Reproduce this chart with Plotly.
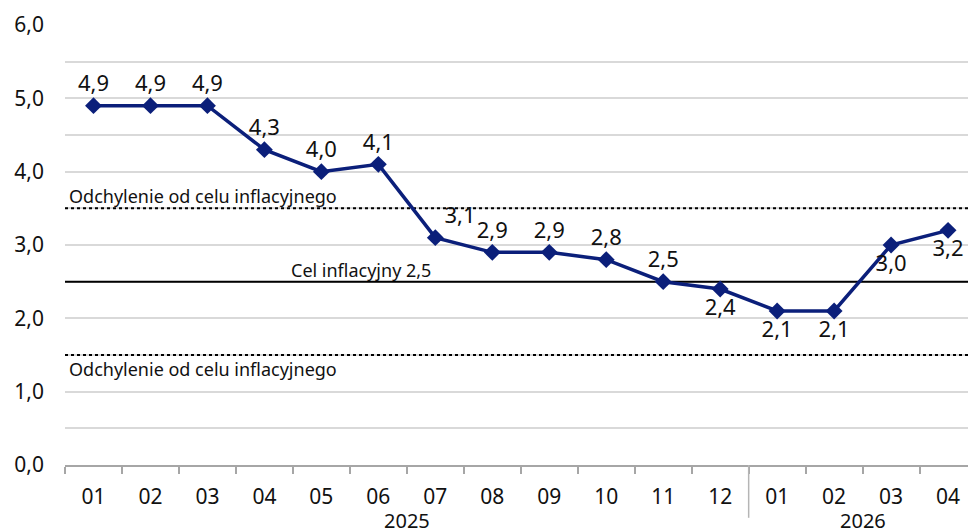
import plotly.graph_objects as go

months = ["01", "02", "03", "04", "05", "06", "07", "08", "09", "10", "11", "12",
          "01", "02", "03", "04"]
years = ["2025"] * 12 + ["2026"] * 4
values = [4.9, 4.9, 4.9, 4.3, 4.0, 4.1, 3.1, 2.9, 2.9, 2.8, 2.5, 2.4, 2.1, 2.1, 3.0, 3.2]
label_pos = ["top center"] * 6 + ["top right"] + ["top center"] * 4 + \
            ["bottom center", "bottom center", "bottom center", "bottom center", "bottom center"]
target = 2.5
upper_band = 3.5
lower_band = 1.5
band_label = "Odchylenie od celu inflacyjnego"
target_label = "Cel inflacyjny 2,5"

FONT = "Noto Sans"
NAVY = "#0b1f7a"
TXT = "#111111"
xs = list(range(len(values)))
labels = [f"{v:.1f}".replace(".", ",") for v in values]

fig = go.Figure()
fig.add_trace(go.Scatter(
    x=xs, y=values, mode="lines+markers+text",
    line=dict(color=NAVY, width=3.5),
    marker=dict(symbol="diamond", size=13, color=NAVY),
    text=labels, textposition=label_pos,
    textfont=dict(family=FONT, size=22, color=TXT),
    cliponaxis=False, showlegend=False, hoverinfo="skip",
))

# the last category is partly cut off by the right edge, as in the reference
x0, x1 = -0.5, len(values) - 0.65
for yv, dash in [(upper_band, "dot"), (target, "solid"), (lower_band, "dot")]:
    fig.add_shape(type="line", xref="x", yref="y", x0=x0, x1=x1, y0=yv, y1=yv,
                  line=dict(color="black", width=2, dash=dash), layer="between")

fig.add_annotation(x=x0, y=upper_band, xref="x", yref="y", text=band_label,
                   showarrow=False, xanchor="left", yanchor="bottom", xshift=2, yshift=-2,
                   font=dict(family=FONT, size=18, color=TXT))
fig.add_annotation(x=x0, y=lower_band, xref="x", yref="y", text=band_label,
                   showarrow=False, xanchor="left", yanchor="top", xshift=2, yshift=0,
                   font=dict(family=FONT, size=18, color=TXT))
fig.add_annotation(x=4.7, y=target, xref="x", yref="y", text=target_label,
                   showarrow=False, xanchor="center", yanchor="bottom", yshift=-2,
                   font=dict(family=FONT, size=18, color=TXT))

# year grouping
groups = []
for i, yr in enumerate(years):
    if not groups or groups[-1][0] != yr:
        groups.append([yr, i, i])
    else:
        groups[-1][2] = i
for yr, a, b in groups:
    fig.add_annotation(x=(a + b) / 2, y=0, xref="x", yref="paper", text=yr,
                       showarrow=False, xanchor="center", yanchor="top", yshift=-40,
                       font=dict(family=FONT, size=20, color=TXT))
for yr, a, b in groups[1:]:
    fig.add_shape(type="line", xref="x", yref="paper", x0=a - 0.5, x1=a - 0.5,
                  y0=0, y1=-0.12, line=dict(color="#b5b5b5", width=1.5))

fig.update_layout(
    width=968, height=528, autosize=False,
    margin=dict(l=65, r=0, t=25, b=63, autoexpand=False),
    paper_bgcolor="white", plot_bgcolor="white",
    separators=", ",
    font=dict(family=FONT, size=21, color=TXT),
)
fig.update_xaxes(
    range=[x0, x1], tickmode="array", tickvals=xs, ticktext=months,
    ticks="", showgrid=False, zeroline=False, automargin=False,
    showline=True, linecolor="#a6a6a6", linewidth=1.5,
    ticklabelstandoff=12,
    tickfont=dict(family=FONT, size=21, color=TXT),
    minor=dict(tickmode="array", tickvals=[i - 0.5 for i in range(len(values) + 1)],
               ticks="outside", ticklen=7, tickcolor="#a6a6a6", tickwidth=1.5, showgrid=False),
)
fig.update_yaxes(
    range=[0, 6], dtick=1, tickformat=".1f", automargin=False,
    showgrid=True, gridcolor="#d9d9d9", gridwidth=1.5,
    zeroline=False, showline=False, ticks="",
    ticklabelstandoff=20,
    tickfont=dict(family=FONT, size=21, color=TXT),
    minor=dict(dtick=0.5, showgrid=True, gridcolor="#d9d9d9", gridwidth=1.5),
)

fig.write_html(
    "out.html",
    config={"displayModeBar": False},
    post_script="document.body.style.margin='0';document.body.style.overflow='hidden';",
)
